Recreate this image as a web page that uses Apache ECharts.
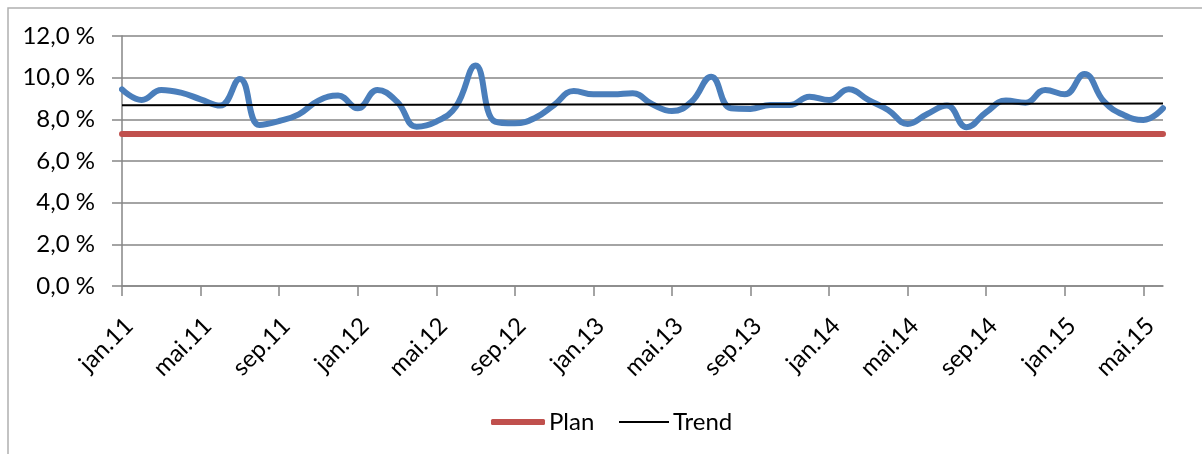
<!DOCTYPE html>
<html>
<head>
<meta charset="utf-8">
<script src="https://cdn.jsdelivr.net/npm/echarts@6/dist/echarts.min.js"></script>
<style>
  html, body { margin: 0; padding: 0; background: #fff; }
  #chart { width: 1202px; height: 454px; }
</style>
</head>
<body>
<div id="chart"></div>
<script>
// Month labels (Norwegian) and years covered
const monthNames = ['jan', 'feb', 'mar', 'apr', 'mai', 'jun', 'jul', 'aug', 'sep', 'okt', 'nov', 'des'];
const years = ['11', '12', '13', '14', '15'];

// Monthly rate, % (jan.11 .. jun.15)
const rate = [
  9.44, 8.93, 9.41, 9.28, 8.96, 8.66, 9.94, 7.73, 7.92, 8.24, 8.90, 9.14,
  8.53, 9.41, 8.85, 7.65, 7.89, 8.61, 10.58, 7.89, 7.81, 8.05, 8.69, 9.36,
  9.20, 9.20, 9.25, 8.72, 8.40, 8.85, 10.05, 8.53, 8.50, 8.69, 8.69, 9.09,
  8.93, 9.44, 8.93, 8.45, 7.78, 8.26, 8.66, 7.62, 8.34, 8.90, 8.80, 9.41,
  9.20, 10.18, 8.85, 8.21, 7.97, 8.53
];

// Plan level, %
const plan = [
  7.3, 7.3, 7.3, 7.3, 7.3, 7.3, 7.3, 7.3, 7.3, 7.3, 7.3, 7.3,
  7.3, 7.3, 7.3, 7.3, 7.3, 7.3, 7.3, 7.3, 7.3, 7.3, 7.3, 7.3,
  7.3, 7.3, 7.3, 7.3, 7.3, 7.3, 7.3, 7.3, 7.3, 7.3, 7.3, 7.3,
  7.3, 7.3, 7.3, 7.3, 7.3, 7.3, 7.3, 7.3, 7.3, 7.3, 7.3, 7.3,
  7.3, 7.3, 7.3, 7.3, 7.3, 7.3
];

// Linear trend: value at first and last month, %
const trendEnds = [8.68, 8.76];

// Value axis ticks
const yTicks = [0, 2, 4, 6, 8, 10, 12];

const categories = [];
years.forEach(y => monthNames.forEach(m => categories.push(m + '.' + y)));
categories.length = rate.length;

const trendData = [[0, trendEnds[0]], [rate.length - 1, trendEnds[1]]];

const font = 'Lato, "DejaVu Sans", sans-serif';
const legendText = { fontFamily: font, fontSize: 24, color: '#000', padding: [0, 0, 0, -1] };

const chart = echarts.init(document.getElementById('chart'), null, { renderer: 'canvas' });
chart.setOption({
  animation: false,
  backgroundColor: '#ffffff',
  graphic: [{
    type: 'rect',
    shape: { x: 8, y: 8, width: 1400, height: 800 },
    style: { fill: 'none', stroke: '#b0b0b0', lineWidth: 1.5 },
    silent: true,
    z: -10
  }],
  grid: { left: 122, right: 39, top: 36, bottom: 168, containLabel: false },
  legend: [
    {
      data: [{ name: 'Plan', icon: 'roundRect' }],
      left: 486,
      top: 405,
      itemWidth: 54,
      itemHeight: 6,
      textStyle: legendText
    },
    {
      data: [{ name: 'Trend', icon: 'rect' }],
      left: 614,
      top: 405,
      itemWidth: 50,
      itemHeight: 2,
      textStyle: legendText
    }
  ],
  xAxis: {
    type: 'category',
    data: categories,
    boundaryGap: false,
    axisLine: { lineStyle: { color: '#868686', width: 1.5 } },
    axisTick: { interval: 3, length: 10, lineStyle: { color: '#868686', width: 1.5 } },
    axisLabel: {
      interval: 3,
      rotate: 45,
      margin: 43,
      padding: [0, -10, 0, 0],
      fontFamily: font,
      fontSize: 24,
      color: '#000'
    },
    splitLine: { show: false }
  },
  yAxis: {
    type: 'value',
    min: yTicks[0],
    max: yTicks[yTicks.length - 1],
    interval: 2,
    axisLine: { show: true, lineStyle: { color: '#868686', width: 1.5 } },
    axisTick: { show: true, length: 10, lineStyle: { color: '#868686', width: 1.5 } },
    axisLabel: {
      margin: 27,
      fontFamily: font,
      fontSize: 24,
      color: '#000',
      formatter: v => v.toFixed(1).replace('.', ',') + ' %'
    },
    splitLine: { show: true, lineStyle: { color: '#868686', width: 1.5 } }
  },
  series: [
    {
      name: 'Rate',
      type: 'line',
      data: rate,
      smooth: 0.45,
      symbol: 'none',
      z: 3,
      lineStyle: { color: '#4A7EBB', width: 6, cap: 'round', join: 'round' }
    },
    {
      name: 'Plan',
      type: 'line',
      data: plan,
      symbol: 'none',
      z: 2,
      color: '#C0504D',
      lineStyle: { color: '#C0504D', width: 6, cap: 'round' }
    },
    {
      name: 'Trend',
      type: 'line',
      data: trendData,
      symbol: 'none',
      z: 4,
      color: '#000',
      lineStyle: { color: '#000', width: 2 }
    }
  ]
});
</script>
</body>
</html>
